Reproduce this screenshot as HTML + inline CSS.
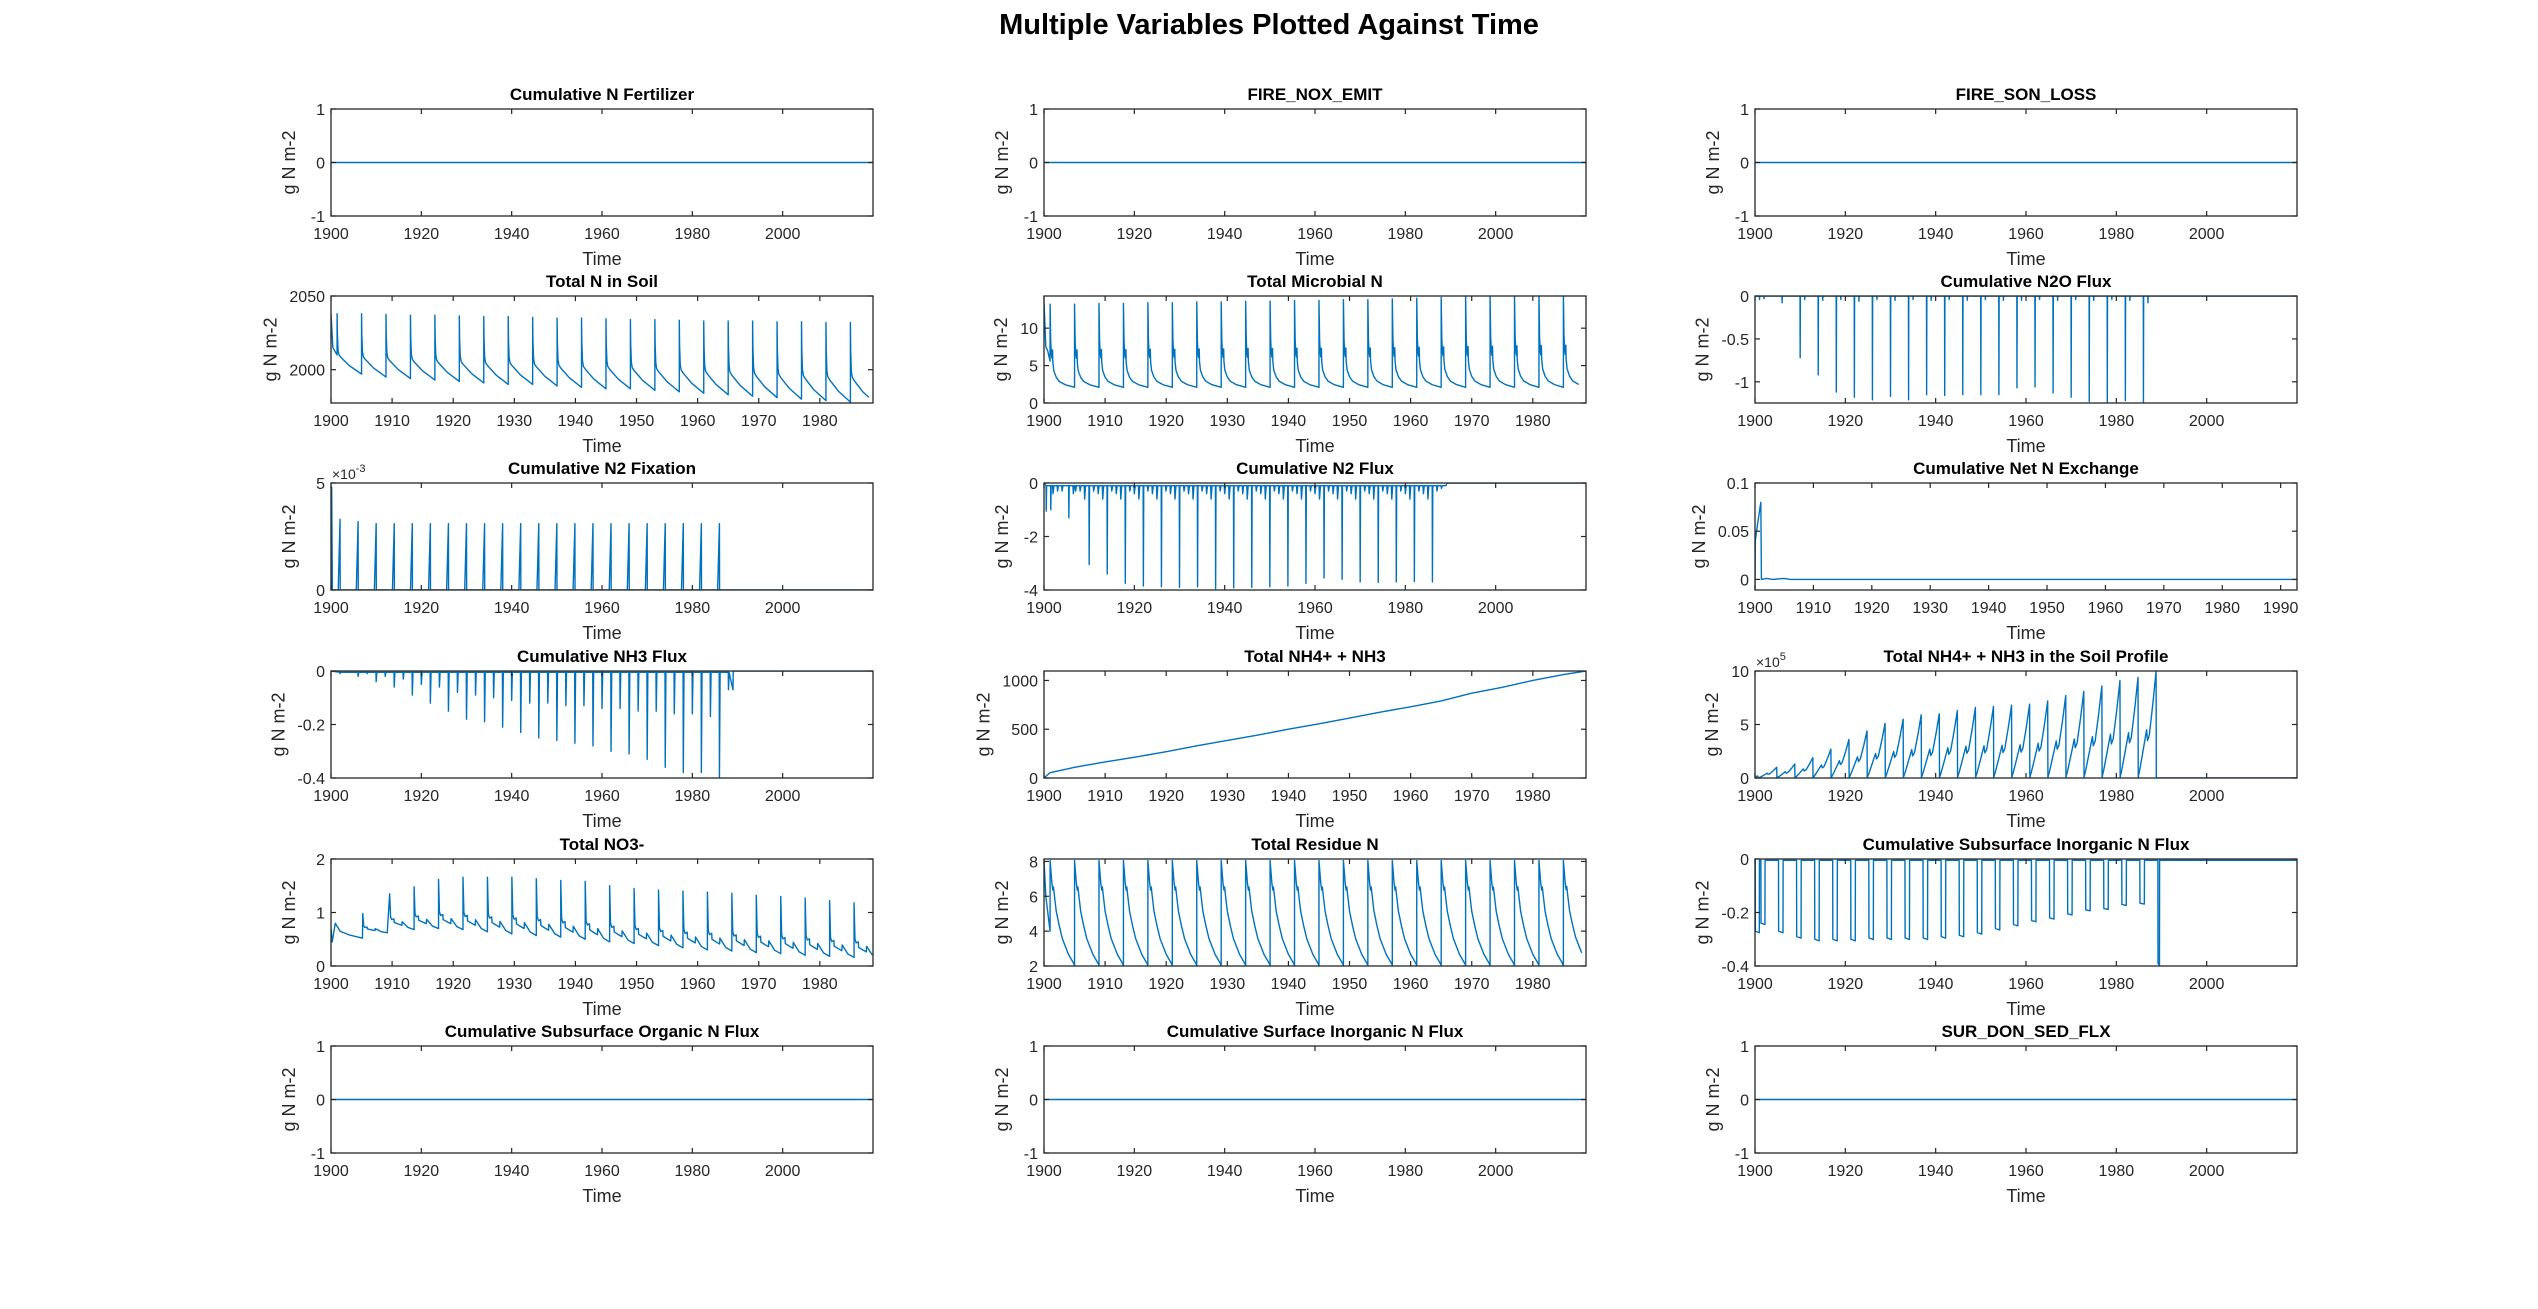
<!DOCTYPE html>
<html><head><meta charset="utf-8"><title>Multiple Variables Plotted Against Time</title>
<style>
html,body{margin:0;padding:0;background:#fff;}
svg{display:block;font-family:"Liberation Sans",Arial,sans-serif;}
</style></head>
<body>
<svg id="fig" width="2538" height="1309" viewBox="0 0 2538 1309">
<rect x="0" y="0" width="2538" height="1309" fill="#fff"/>
<text x="1269" y="34" text-anchor="middle" font-size="29" font-weight="bold" fill="#000">Multiple Variables Plotted Against Time</text>
</svg>
<script>
// ---------- data arrays ----------
const cyc4 = [1901,1905,1909,1913,1917,1921,1925,1929,1933,1937,1941,1945,1949,1953,1957,1961,1965,1969,1973,1977,1981,1985];
const soilPeaks = [2038,2038,2037.5,2037,2037,2036.5,2036,2036,2035.5,2035,2035,2034.5,2034,2034,2033.5,2033,2033,2033,2032.5,2032.5,2032,2032];
const soilTroughs = [1997,1995,1994,1993,1992,1991,1990,1990,1989,1988,1987,1987,1986,1985,1984,1983,1982,1981,1980,1979,1978,1977.5];
const soilShapeT = [0,0.05,0.15,0.3,0.6,1.2,2,3,4];
const soilShapeF = [0,0.35,0.6,0.68,0.72,0.78,0.86,0.93,1];
const micPeaks = [13.2,13.2,13.3,13.3,13.4,13.4,13.5,13.5,13.6,13.6,13.7,13.7,13.8,13.8,13.9,14,14.1,14.2,14.3,14.4,14.5,14.6];
const micTroughs = [2.1,2.1,2.1,2.1,2.1,2.1,2.1,2.1,2.1,2.1,2.1,2.1,2.1,2.1,2.1,2.1,2.1,2.1,2.1,2.1,2.1,2.1];
const micShapeT = [0,0.1,0.2,0.3,0.4,0.45,0.6,1,1.5,2.5,4];
const micShapeF = [0,0.45,0.6,0.65,0.55,0.7,0.8,0.88,0.93,0.97,1];
const n2oYears = [1910,1914,1918,1922,1926,1930,1934,1938,1942,1946,1950,1954,1958,1962,1966,1970,1974,1978,1982,1986];
const n2oDips = [-0.72,-0.92,-1.12,-1.18,-1.21,-1.17,-1.21,-1.15,-1.16,-1.15,-1.15,-1.15,-1.07,-1.06,-1.13,-1.18,-1.23,-1.25,-1.22,-1.25];
const n2oMinorYears = [1901,1902,1906,1911,1915,1919,1923,1927,1931,1935,1939,1943,1947,1951,1955,1959,1963,1967,1971,1975,1979,1983,1987];
const n2oMinor = [-0.04,-0.03,-0.08,-0.04,-0.05,-0.04,-0.06,-0.04,-0.05,-0.04,-0.05,-0.04,-0.05,-0.04,-0.05,-0.05,-0.04,-0.05,-0.04,-0.05,-0.04,-0.05,-0.08];
const fixYears = [1902,1906,1910,1914,1918,1922,1926,1930,1934,1938,1942,1946,1950,1954,1958,1962,1966,1970,1974,1978,1982,1986];
const fixPeaks = [3.3,3.2,3.1,3.1,3.1,3.1,3.1,3.1,3.1,3.1,3.1,3.1,3.1,3.1,3.1,3.1,3.1,3.1,3.1,3.1,3.1,3.1];
const n2Years = [1900.5,1901.5,1905.5,1910,1914,1918,1922,1926,1930,1934,1938,1942,1946,1950,1954,1958,1962,1966,1970,1974,1978,1982,1986];
const n2Dips = [-1.05,-1.0,-1.3,-3.05,-3.4,-3.75,-3.85,-3.88,-3.9,-3.88,-3.95,-3.92,-3.9,-3.88,-3.85,-3.75,-3.55,-3.6,-3.7,-3.72,-3.7,-3.68,-3.7];
const n2MinorYears = [1902,1903,1904,1906.5,1907,1908,1909,1911,1912,1913,1915,1916,1917,1919,1920,1921,1923,1924,1925,1927,1928,1929,1931,1932,1933,1935,1936,1937,1939,1940,1941,1943,1944,1945,1947,1948,1949,1951,1952,1953,1955,1956,1957,1959,1960,1961,1963,1964,1965,1967,1968,1969,1971,1972,1973,1975,1976,1977,1979,1980,1981,1983,1984,1985,1987,1988];
const n2Minor = [-0.4,-0.3,-0.3,-0.4,-0.3,-0.3,-0.6,-0.3,-0.4,-0.6,-0.3,-0.4,-0.6,-0.3,-0.4,-0.6,-0.3,-0.4,-0.6,-0.3,-0.4,-0.6,-0.3,-0.4,-0.6,-0.3,-0.4,-0.6,-0.3,-0.4,-0.6,-0.3,-0.4,-0.6,-0.3,-0.4,-0.6,-0.3,-0.4,-0.6,-0.3,-0.4,-0.6,-0.3,-0.4,-0.6,-0.3,-0.4,-0.6,-0.3,-0.4,-0.6,-0.3,-0.4,-0.6,-0.3,-0.4,-0.6,-0.3,-0.4,-0.6,-0.3,-0.4,-0.6,-0.3,-0.2];
const netYears = [1900,1900.05,1900.5,1901,1901.1,1902,1903,1905,1906,1993];
const netVals = [-0.01,0.04,0.06,0.08,0,0.001,0,0.001,0,0];
const nh3Years = [1902,1906,1910,1914,1918,1922,1926,1930,1934,1938,1942,1946,1950,1954,1958,1962,1966,1970,1974,1978,1982,1986];
const nh3Dips = [-0.01,-0.02,-0.04,-0.06,-0.09,-0.12,-0.15,-0.18,-0.19,-0.21,-0.23,-0.25,-0.26,-0.27,-0.28,-0.30,-0.31,-0.33,-0.36,-0.38,-0.38,-0.40];
const nh3Second = [-0.005,-0.01,-0.02,-0.03,-0.05,-0.06,-0.08,-0.09,-0.1,-0.11,-0.12,-0.12,-0.13,-0.13,-0.14,-0.14,-0.15,-0.15,-0.16,-0.16,-0.17,-0.07];
const nhYears = [1900,1901,1905,1910,1915,1920,1925,1930,1935,1940,1945,1950,1955,1960,1965,1970,1975,1980,1985,1989];
const nhVals = [0,55,110,165,215,270,330,385,440,500,555,615,675,730,790,870,930,1000,1060,1100];
const profStarts = [1900.9,1904.9,1908.9,1912.9,1916.9,1920.9,1924.9,1928.9,1932.9,1936.9,1940.9,1944.9,1948.9,1952.9,1956.9,1960.9,1964.9,1968.9,1972.9,1976.9,1980.9,1984.9];
const profPeaks = [1.0,1.3,1.9,2.7,3.6,4.4,5.1,5.5,5.9,6.0,6.3,6.6,6.7,6.8,6.9,7.2,7.7,8.1,8.6,9.1,9.4,10.0];
const profShapeT = [0,0.3,1.0,1.8,2.0,2.4,3.2,3.9,3.95];
const profShapeF = [0.02,0.08,0.25,0.45,0.35,0.4,0.7,1,0];
const subYears = [1900.05,1901.3,1905.2,1909.2,1913.2,1917.2,1921.2,1925.2,1929.2,1933.2,1937.2,1941.2,1945.2,1949.2,1953.2,1957.2,1961.2,1965.2,1969.2,1973.2,1977.2,1981.2,1985.2,1989.2];
const subVals = [-0.27,-0.24,-0.27,-0.29,-0.30,-0.30,-0.30,-0.295,-0.295,-0.295,-0.295,-0.29,-0.285,-0.275,-0.26,-0.245,-0.23,-0.22,-0.205,-0.19,-0.185,-0.17,-0.165,-0.39];
const no3Years = [1905.2,1909.6,1913.6,1917.6,1921.6,1925.6,1929.6,1933.6,1937.6,1941.6,1945.6,1949.6,1953.6,1957.6,1961.6,1965.6,1969.6,1973.6,1977.6,1981.6,1985.6];
const no3Peaks = [0.98,1.35,1.48,1.62,1.66,1.66,1.66,1.63,1.6,1.58,1.5,1.45,1.42,1.4,1.38,1.36,1.32,1.3,1.27,1.22,1.18];
const no3Troughs = [0.62,0.68,0.7,0.68,0.64,0.6,0.57,0.54,0.5,0.45,0.42,0.38,0.34,0.3,0.28,0.25,0.23,0.2,0.18,0.16,0.14];
const no3ShapeT = [0,0.15,0.35,0.7,0.75,1.5,2.0,2.05,3,4];
const no3ShapeF = [0,0.65,0.72,0.7,0.8,0.85,0.88,0.78,0.94,1];
const resPeaks = [8.05,8.05,8.05,8.05,8.05,8.05,8.05,8.05,8.05,8.05,8.05,8.05,8.05,8.05,8.05,8.05,8.05,8.05,8.05,8.05,8.05,8.05];
const resTroughs = [2,2,2,2,2,2,2,2,2,2,2,2,2,2,2,2,2,2,2,2,2,2.1];
const resShapeT = [0,0.3,0.45,0.55,0.7,1.0,1.5,2,3,3.9,4];
const resShapeF = [0,0.22,0.28,0.25,0.33,0.48,0.62,0.74,0.89,0.98,1];
const longTicks = [1900,1920,1940,1960,1980,2000];
const shortTicks = [1900,1910,1920,1930,1940,1950,1960,1970,1980];
const netTicks = [1900,1910,1920,1930,1940,1950,1960,1970,1980,1990];

// ---------- series builders ----------
function cycles(start, years, peaks, troughs, T, F, end){
  const p = start.slice();
  years.forEach((y,i)=>{ T.forEach((t,j)=>{ if(y+t<=end) p.push([y+t, peaks[i]-F[j]*(peaks[i]-troughs[i])]); }); });
  return p;
}
function spikes(years, vals, pre, post, base){
  const p=[];
  years.forEach((y,i)=>{ p.push([y-pre,base]); p.push([y,vals[i]]); p.push([y+post,base]); });
  return p;
}
function merge(a,b){ return a.concat(b).sort((u,v)=>u[0]-v[0]); }
function zip(xs,ys){ return xs.map((x,i)=>[x,ys[i]]); }

const flat = [[1900,0],[2020,0]];
const soilSeries = cycles([[1900,2038],[1900.3,2015],[1900.99,2010]], cyc4, soilPeaks, soilTroughs, soilShapeT, soilShapeF, 1988.7);
const micSeries = cycles([[1900,13.5],[1900.3,7.5],[1900.6,7],[1900.99,5.6]], cyc4, micPeaks, micTroughs, micShapeT, micShapeF, 1988.7);
const n2oSeries = [[1900,0]].concat(merge(spikes(n2oYears,n2oDips,0.03,0.05,0), spikes(n2oMinorYears,n2oMinor,0.03,0.05,0))).concat([[2020,0]]);
const fixSeries = [[1900,0],[1900.15,4.8],[1900.3,0]].concat(spikes(fixYears,fixPeaks,0.4,0.03,0)).concat([[2020,0]]);
const n2Series = [[1900,0]].concat(merge(spikes(n2Years,n2Dips,0.05,0.08,-0.1), spikes(n2MinorYears,n2Minor,0.1,0.2,-0.1))).concat([[1989,-0.1],[1989.2,0],[2020,0]]);
const netSeries = zip(netYears, netVals);
const nh3Series = [[1900,0]].concat(merge(spikes(nh3Years,nh3Dips,0.05,0.15,-0.005), spikes(nh3Years.map(y=>y+2),nh3Second,0.05,0.15,-0.005))).concat([[1989,-0.07],[1989.05,0],[2020,0]]);
const nhSeries = zip(nhYears, nhVals);
const profSeries = cycles([[1900,0],[1900.5,0.2],[1900.9,0]], profStarts, profPeaks, profPeaks.map(()=>0), profShapeT, profShapeF.map(f=>1-f), 1989).concat([[1988.9,0],[2020,0]]);
const subSeries = (function(){ const p=[[1900,-0.03]]; subYears.forEach((y,i)=>{ const w = i<2?0.9:(i===subYears.length-1?0.35:1); p.push([y,-0.005]); p.push([y+0.03,subVals[i]]); p.push([y+w,subVals[i]*1.02]); p.push([y+w+0.03,-0.005]); }); p.push([2020,-0.005]); return p; })();
const no3Series = cycles([[1900,0.7],[1900.2,0.45],[1900.7,0.8],[1901.5,0.65],[1903,0.58],[1905.15,0.52]], no3Years, no3Peaks, no3Troughs, no3ShapeT, no3ShapeF, 1988.7);
const resSeries = cycles([[1900,8.05],[1900.3,6],[1900.99,4]], cyc4, resPeaks, resTroughs, resShapeT, resShapeF, 1988.7);

// ---------- layout ----------
const cols=[331,1044,1755], rows=[109,296,483,671,859,1046], W=542, H=107;
const svg=document.getElementById('fig');
const NS='http://www.w3.org/2000/svg';
function el(tag, attrs, parent){ const e=document.createElementNS(NS,tag); for(const k in attrs) e.setAttribute(k,attrs[k]); (parent||svg).appendChild(e); return e; }
function labelWidth(s){ let w=0; for(const ch of String(s)) w += (ch==='-')?5.3:(ch==='.')?4.5:8.9; return w; }

const panels=[
 ['Cumulative N Fertilizer',0,0,1900,2020,longTicks,-1,1,[-1,0,1],null,flat],
 ['FIRE_NOX_EMIT',1,0,1900,2020,longTicks,-1,1,[-1,0,1],null,flat],
 ['FIRE_SON_LOSS',2,0,1900,2020,longTicks,-1,1,[-1,0,1],null,flat],
 ['Total N in Soil',0,1,1900,1988.7,shortTicks,1977.4,2050,[2000,2050],null,soilSeries],
 ['Total Microbial N',1,1,1900,1988.7,shortTicks,0,14.3,[0,5,10],null,micSeries],
 ['Cumulative N2O Flux',2,1,1900,2020,longTicks,-1.247,0,[-1,-0.5,0],null,n2oSeries],
 ['Cumulative N2 Fixation',0,2,1900,2020,longTicks,0,5,[0,5],'-3',fixSeries],
 ['Cumulative N2 Flux',1,2,1900,2020,longTicks,-4,0,[-4,-2,0],null,n2Series],
 ['Cumulative Net N Exchange',2,2,1900,1992.8,netTicks,-0.011,0.1,[0,0.05,0.1],null,netSeries],
 ['Cumulative NH3 Flux',0,3,1900,2020,longTicks,-0.4,0,[-0.4,-0.2,0],null,nh3Series],
 ['Total NH4+ + NH3',1,3,1900,1988.7,shortTicks,0,1097,[0,500,1000],null,nhSeries],
 ['Total NH4+ + NH3 in the Soil Profile',2,3,1900,2020,longTicks,0,10,[0,5,10],'5',profSeries],
 ['Total NO3-',0,4,1900,1988.7,shortTicks,0,2,[0,1,2],null,no3Series],
 ['Total Residue N',1,4,1900,1988.7,shortTicks,2,8.14,[2,4,6,8],null,resSeries],
 ['Cumulative Subsurface Inorganic N Flux',2,4,1900,2020,longTicks,-0.4,0,[-0.4,-0.2,0],null,subSeries],
 ['Cumulative Subsurface Organic N Flux',0,5,1900,2020,longTicks,-1,1,[-1,0,1],null,flat],
 ['Cumulative Surface Inorganic N Flux',1,5,1900,2020,longTicks,-1,1,[-1,0,1],null,flat],
 ['SUR_DON_SED_FLX',2,5,1900,2020,longTicks,-1,1,[-1,0,1],null,flat]
];

panels.forEach((pd,idx)=>{
  const [title,c,r,x0,x1,xt,y0,y1,yt,expo,series]=pd;
  const L=cols[c], T=rows[r];
  const sx=v=>L+(v-x0)/(x1-x0)*W;
  const sy=v=>T+H-(v-y0)/(y1-y0)*H;
  const g=el('g',{});
  
  
  const cp=el('clipPath',{id:'cp'+idx},g);
  el('rect',{x:L,y:T,width:W,height:H},cp);
  const bg=el('rect',{x:L,y:T,width:W,height:H,fill:'#fff'},g);
  
  
  const d=series.map((p,i)=>(i?'L':'M')+sx(p[0]).toFixed(2)+' '+sy(p[1]).toFixed(2)).join('');
  const path=el('path',{d:d,fill:'none',stroke:'#0072BD','stroke-width':1.4,'stroke-linejoin':'round','clip-path':'url(#cp'+idx+')'},g);
  
  
  const box=el('rect',{x:L,y:T,width:W,height:H,fill:'none',stroke:'#262626','stroke-width':1.3},g);
  
  
  xt.forEach(v=>{
    const x=sx(v);
    el('line',{x1:x,y1:T+H,x2:x,y2:T+H-5,stroke:'#262626','stroke-width':1.2},g);
    el('line',{x1:x,y1:T,x2:x,y2:T+5,stroke:'#262626','stroke-width':1.2},g);
    const t=el('text',{x:x,y:T+H+23,'text-anchor':'middle','font-size':16,fill:'#262626'},g);
    t.textContent=v;
    
    
  });
  let maxW=0;
  yt.forEach(v=>{
    const y=sy(v);
    el('line',{x1:L,y1:y,x2:L+5,y2:y,stroke:'#262626','stroke-width':1.2},g);
    el('line',{x1:L+W,y1:y,x2:L+W-5,y2:y,stroke:'#262626','stroke-width':1.2},g);
    const t=el('text',{x:L-6,y:y+6,'text-anchor':'end','font-size':16,fill:'#262626'},g);
    t.textContent=v;
    
    
    maxW=Math.max(maxW,labelWidth(v));
  });
  if(expo){
    const t=el('text',{x:L+1,y:T-4,'font-size':14,fill:'#262626'},g);
    t.textContent='×10';
    
    
    const s=el('tspan',{dy:-7,'font-size':11},t);
    s.textContent=expo;
  }
  const tt=el('text',{x:L+W/2,y:T-9,'text-anchor':'middle','font-size':17,'font-weight':'bold',fill:'#000'},g);
  tt.textContent=title;
  
  
  const xl=el('text',{x:L+W/2,y:T+H+49,'text-anchor':'middle','font-size':18,fill:'#262626'},g);
  xl.textContent='Time';
  
  
  const yx=L-Math.max(36, maxW+19), yy=T+H/2;
  const yl=el('text',{x:yx,y:yy,'text-anchor':'middle','font-size':18,fill:'#262626',transform:'rotate(-90 '+yx+' '+yy+')'},g);
  yl.textContent='g N m-2';
  
  
});
</script>
</body></html>
